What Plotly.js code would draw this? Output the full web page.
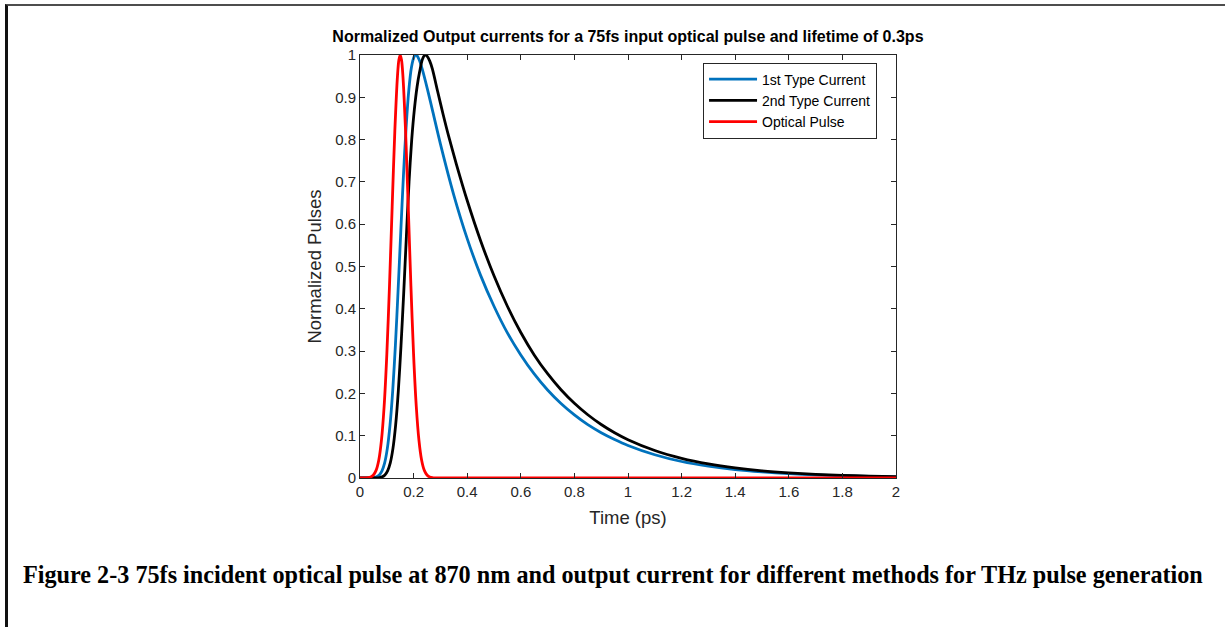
<!DOCTYPE html>
<html>
<head>
<meta charset="utf-8">
<script src="https://cdn.plot.ly/plotly-3.0.1.min.js"></script>
<style>
  html, body { margin: 0; padding: 0; background: #ffffff; }
  #wrap { position: relative; width: 1225px; height: 627px; overflow: hidden; }
  #chart { position: absolute; left: 0; top: 0; width: 1225px; height: 627px; }
  #frame { position: absolute; left: 5px; top: 4px; right: -10px; bottom: -10px;
           border-top: 2px solid #4d4d4d; border-left: 3px solid #111111; pointer-events: none; }
</style>
</head>
<body>
<div id="wrap">
  <div id="chart"></div>
  <div id="frame"></div>
</div>
<script>
// ---- data ----
const timeBlue = [0, 0.04, 0.052, 0.062, 0.072, 0.082, 0.092, 0.102, 0.112, 0.122, 0.132, 0.142, 0.152, 0.162, 0.172, 0.182, 0.192, 0.202, 0.207, 0.212, 0.222, 0.232, 0.252, 0.272, 0.30, 0.35, 0.40, 0.45, 0.50, 0.55, 0.60, 0.65, 0.70, 0.75, 0.80, 0.85, 0.90, 0.95, 1.0, 1.1, 1.2, 1.3, 1.4, 1.5, 1.6, 1.7, 1.8, 1.9, 2.0];
const firstType = [0, 0.0002, 0.001, 0.0028, 0.0072, 0.0169, 0.0358, 0.070, 0.125, 0.206, 0.313, 0.442, 0.580, 0.714, 0.829, 0.916, 0.971, 0.996, 1.0, 0.999, 0.987, 0.967, 0.918, 0.865, 0.790, 0.669, 0.566, 0.479, 0.406, 0.343, 0.291, 0.246, 0.208, 0.176, 0.149, 0.126, 0.107, 0.091, 0.077, 0.055, 0.039, 0.028, 0.020, 0.0145, 0.0104, 0.0074, 0.0053, 0.0038, 0.0027];

const timeBlack = [0, 0.05, 0.063, 0.073, 0.083, 0.093, 0.103, 0.113, 0.123, 0.133, 0.143, 0.153, 0.163, 0.173, 0.183, 0.193, 0.203, 0.213, 0.223, 0.233, 0.2425, 0.25, 0.26, 0.27, 0.29, 0.31, 0.33, 0.36, 0.40, 0.45, 0.50, 0.55, 0.60, 0.65, 0.70, 0.75, 0.80, 0.85, 0.90, 0.95, 1.0, 1.1, 1.2, 1.3, 1.4, 1.5, 1.6, 1.7, 1.8, 1.9, 2.0];
const secondType = [0, 0.0001, 0.0003, 0.001, 0.0028, 0.0072, 0.0169, 0.0358, 0.070, 0.125, 0.206, 0.313, 0.436, 0.57, 0.70, 0.80, 0.872, 0.925, 0.962, 0.99, 1.0, 0.9975, 0.986, 0.967, 0.913, 0.860, 0.810, 0.741, 0.656, 0.561, 0.478, 0.406, 0.344, 0.291, 0.2465, 0.2086, 0.1766, 0.1495, 0.1265, 0.1071, 0.0906, 0.065, 0.0466, 0.0334, 0.0239, 0.0171, 0.0123, 0.0088, 0.0063, 0.0045, 0.0032];

const timeRed = [0, 0.02, 0.03, 0.04, 0.05, 0.06, 0.07, 0.08, 0.09, 0.10, 0.11, 0.12, 0.13, 0.14, 0.145, 0.15, 0.155, 0.16, 0.17, 0.18, 0.19, 0.20, 0.21, 0.22, 0.23, 0.24, 0.25, 0.26, 0.27, 0.28, 0.30, 2.0];
const opticalPulse = [0, 0.0002, 0.0008, 0.0025, 0.0072, 0.018, 0.042, 0.089, 0.169, 0.291, 0.454, 0.641, 0.821, 0.952, 0.988, 1.0, 0.988, 0.952, 0.821, 0.641, 0.454, 0.291, 0.169, 0.089, 0.042, 0.018, 0.0072, 0.0025, 0.0008, 0.0002, 0, 0];

const xTicks = [0, 0.2, 0.4, 0.6, 0.8, 1, 1.2, 1.4, 1.6, 1.8, 2];
const xTickLabels = ["0", "0.2", "0.4", "0.6", "0.8", "1", "1.2", "1.4", "1.6", "1.8", "2"];
const yTicks = [0, 0.1, 0.2, 0.3, 0.4, 0.5, 0.6, 0.7, 0.8, 0.9, 1];
const yTickLabels = ["0", "0.1", "0.2", "0.3", "0.4", "0.5", "0.6", "0.7", "0.8", "0.9", "1"];

const seriesNames = ["1st Type Current", "2nd Type Current", "Optical Pulse"];
const chartTitle = "Normalized Output currents for a 75fs input optical pulse and lifetime of 0.3ps";
const xTitle = "Time (ps)";
const yTitle = "Normalized Pulses";
const caption = "Figure 2-3 75fs incident optical pulse at 870 nm and output current for different methods for THz pulse generation";

// ---- chart ----
const lineW = 2.8;
const traces = [
  { x: timeBlue, y: firstType, name: seriesNames[0], type: "scatter", mode: "lines",
    line: { color: "#0072BD", width: lineW, shape: "spline", smoothing: 0.8 } },
  { x: timeBlack, y: secondType, name: seriesNames[1], type: "scatter", mode: "lines",
    line: { color: "#000000", width: lineW, shape: "spline", smoothing: 0.8 } },
  { x: timeRed, y: opticalPulse, name: seriesNames[2], type: "scatter", mode: "lines",
    line: { color: "#FF0000", width: lineW, shape: "spline", smoothing: 0.8 } }
];

const FONT = "Liberation Sans, Arial, sans-serif";
const axisCommon = {
  showgrid: false, zeroline: false, showline: true, linecolor: "#262626", linewidth: 1,
  mirror: "allticks", ticks: "inside", ticklen: 5, tickcolor: "#262626", tickwidth: 1,
  tickfont: { family: FONT, size: 15, color: "#262626" }
};

const layout = {
  width: 1225, height: 627,
  paper_bgcolor: "rgba(0,0,0,0)", plot_bgcolor: "#ffffff",
  margin: { l: 360, r: 329, t: 55, b: 149 },
  showlegend: true,
  title: { text: "<b>" + chartTitle + "</b>", x: 0.5126, xanchor: "center", y: 0.9426, yanchor: "middle",
           font: { family: FONT, size: 16, color: "#000000" } },
  xaxis: Object.assign({}, axisCommon, {
    range: [0, 2], tickvals: xTicks, ticktext: xTickLabels,
    title: { text: xTitle, standoff: 12, font: { family: FONT, size: 18.5, color: "#262626" } }
  }),
  yaxis: Object.assign({}, axisCommon, {
    range: [0, 1], tickvals: yTicks, ticktext: yTickLabels,
    title: { text: yTitle, standoff: 8, font: { family: FONT, size: 18.5, color: "#262626" } }
  }),
  legend: {
    x: 0.64, y: 0.982, xanchor: "left", yanchor: "top",
    bgcolor: "#ffffff", bordercolor: "#262626", borderwidth: 1,
    font: { family: FONT, size: 14, color: "#000000" },
    tracegroupgap: 0, itemwidth: 48
  },
  annotations: [{
    text: "<b>" + caption + "</b>", xref: "paper", yref: "paper",
    x: -0.6325, y: -0.227, xanchor: "left", yanchor: "middle", showarrow: false,
    font: { family: "Liberation Serif, Times New Roman, serif", size: 24.2, color: "#000000" }
  }]
};

Plotly.newPlot("chart", traces, layout, { displayModeBar: false, staticPlot: true });
</script>
</body>
</html>
